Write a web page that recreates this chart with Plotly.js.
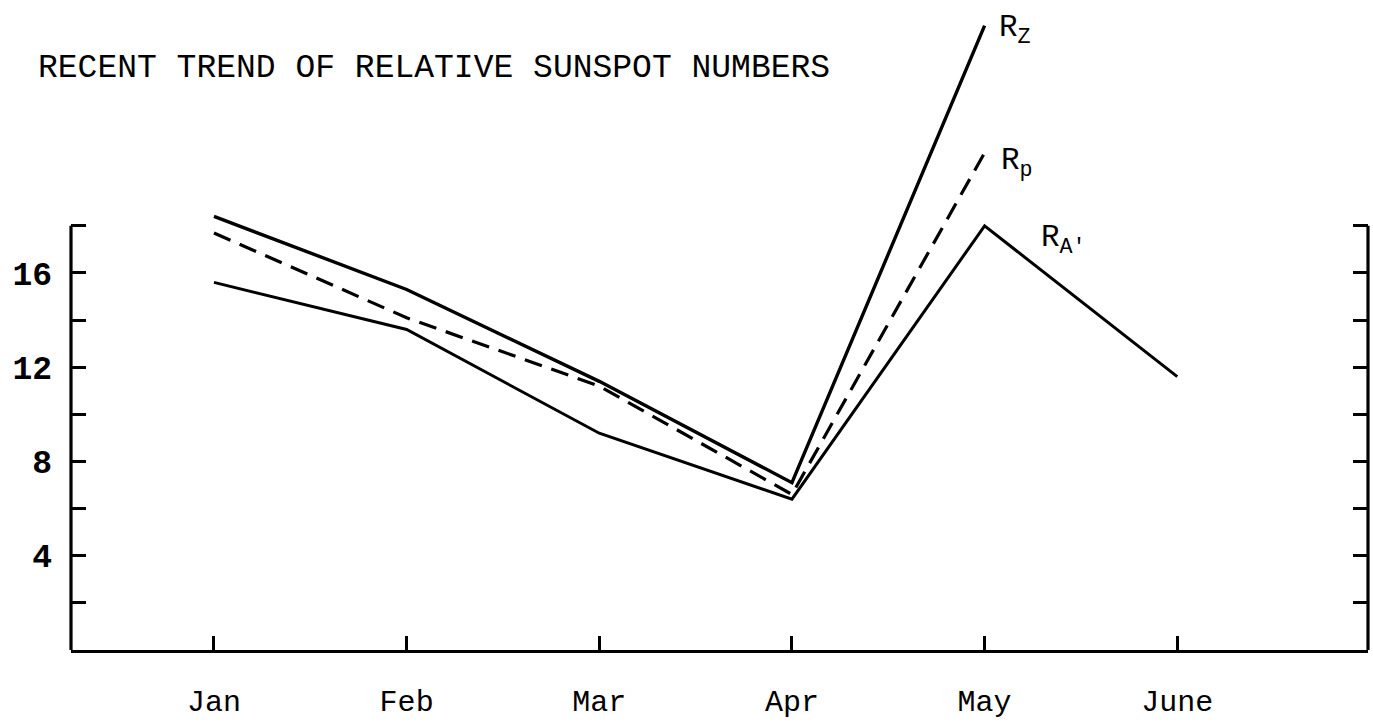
<!DOCTYPE html>
<html>
<head>
<meta charset="utf-8">
<script src="https://cdn.plot.ly/plotly-3.0.1.min.js"></script>
<style>html,body{margin:0;padding:0;background:#fff;}#chart{width:1373px;height:725px;}</style>
</head>
<body>
<div id="chart"></div>
<script>
// ---- data ----
const months = ['Jan', 'Feb', 'Mar', 'Apr', 'May', 'June'];
const rz = [18.4, 15.3, 11.4, 7.1, 26.5];          // R_Z (solid)
const rp = [17.7, 14.1, 11.2, 6.6, 21.1];          // R_p (dashed)
const ra = [15.6, 13.6, 9.2, 6.4, 18.0, 11.6];     // R_A' (solid)
const yTickVals = [4, 8, 12, 16];
const yTickText = ['4', '8', '12', '16'];
const yMinorVals = [2, 6, 10, 14, 18];
const seriesLabels = ['R<sub>Z</sub>', 'R<sub>p</sub>', 'R<sub>A\'</sub>'];
const titleText = 'RECENT TREND OF RELATIVE SUNSPOT NUMBERS';
const axisTop = 18;

const mono = 'Liberation Mono, DejaVu Sans Mono, monospace';

const traces = [
  {x: months.slice(0, rz.length), y: rz, mode: 'lines', name: 'Rz',
   line: {color: '#000', width: 3.4}},
  {x: months.slice(0, rp.length), y: rp, mode: 'lines', name: 'Rp',
   line: {color: '#000', width: 3.2, dash: '18px,10px'}},
  {x: months.slice(0, ra.length), y: ra, mode: 'lines', name: "RA'",
   line: {color: '#000', width: 3}}
];

const peakIdx = 4;
const annotations = [
  {x: months[peakIdx], y: rz[peakIdx], text: seriesLabels[0], xshift: 12, yshift: -4},
  {x: months[peakIdx], y: rp[peakIdx], text: seriesLabels[1], xshift: 14, yshift: -10},
  {x: months[peakIdx], y: ra[peakIdx], text: seriesLabels[2], xshift: 54, yshift: -14}
].map(a => Object.assign({xref: 'x', yref: 'y', showarrow: false, xanchor: 'left',
  yanchor: 'middle', font: {family: mono, size: 31, color: '#000'}}, a));

const tickStyle = {ticks: 'inside', ticklen: 15, tickwidth: 3, tickcolor: '#000'};

const layout = {
  width: 1373, height: 725,
  paper_bgcolor: '#fff', plot_bgcolor: '#fff',
  margin: {l: 71, r: 5, t: 2, b: 75},
  showlegend: false,
  title: {text: titleText, x: 38 / 1373, xref: 'container', xanchor: 'left',
          y: 1 - 65 / 725, yref: 'container', yanchor: 'middle',
          font: {family: mono, size: 33, color: '#000'}},
  xaxis: {type: 'category', range: [-0.742, 5.99], showgrid: false, zeroline: false,
          showline: true, linewidth: 3, linecolor: '#000',
          ticks: 'inside', ticklen: 14, tickwidth: 3, tickcolor: '#000',
          ticklabelstandoff: 22,
          tickfont: {family: mono, size: 30, color: '#000'}},
  yaxis: Object.assign({range: [0, 27.5], showgrid: false, zeroline: false, showline: false,
          tickmode: 'array', tickvals: yTickVals, ticktext: yTickText,
          ticklabelstandoff: 18,
          minor: Object.assign({tickmode: 'array', tickvals: yMinorVals, showgrid: false}, tickStyle),
          tickfont: {family: mono, size: 33, color: '#000', weight: 'bold'}}, tickStyle),
  yaxis2: Object.assign({range: [0, 27.5], overlaying: 'y', side: 'right', showgrid: false,
           zeroline: false, showline: false, showticklabels: false,
           tickmode: 'array', tickvals: yTickVals,
           minor: Object.assign({tickmode: 'array', tickvals: yMinorVals, showgrid: false}, tickStyle)},
           tickStyle),
  shapes: [
    {type: 'line', xref: 'paper', yref: 'y', x0: 0, x1: 0, y0: 0, y1: axisTop,
     line: {color: '#000', width: 3.2}},
    {type: 'line', xref: 'paper', yref: 'y', x0: 1, x1: 1, y0: 0, y1: axisTop,
     line: {color: '#000', width: 3.2}}
  ],
  annotations: annotations
};

// invisible trace so the right-hand axis is drawn
traces.push({x: [months[0]], y: [0], yaxis: 'y2', mode: 'markers',
  marker: {opacity: 0}, hoverinfo: 'skip', showlegend: false});

Plotly.newPlot('chart', traces, layout, {staticPlot: true});
</script>
</body>
</html>
